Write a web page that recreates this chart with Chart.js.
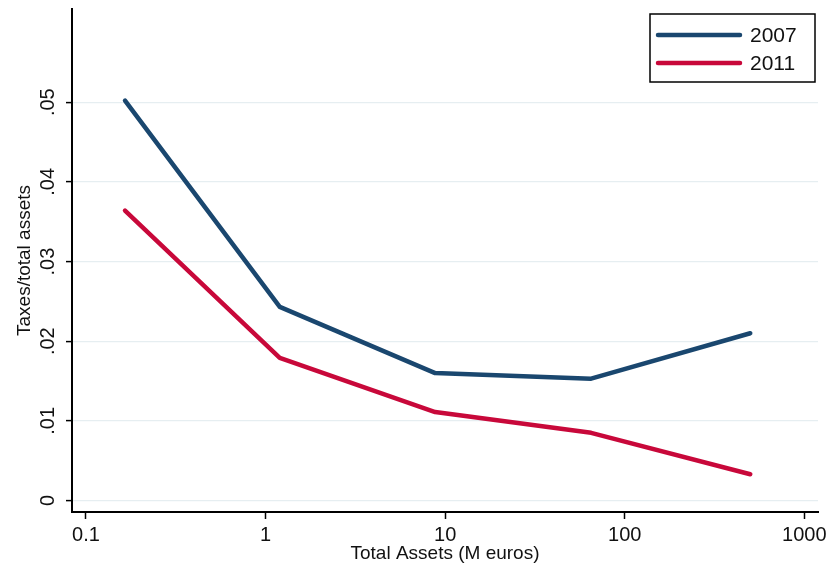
<!DOCTYPE html>
<html>
<head>
<meta charset="utf-8">
<script src="https://cdn.jsdelivr.net/npm/chart.js@4.4.1/dist/chart.umd.min.js"></script>
<style>
  html, body { margin: 0; padding: 0; background: #fff; }
  #wrap { width: 831px; height: 572px; position: relative; }
</style>
</head>
<body>
<div id="wrap"><canvas id="taxChart"></canvas></div>
<script>
// values
const years = ['2007', '2011'];
const assetLevels = [0.165, 1.2, 8.8, 65, 500];
const taxes2007 = [0.0502, 0.0243, 0.0160, 0.0153, 0.0210];
const taxes2011 = [0.0364, 0.0179, 0.0111, 0.0085, 0.0033];
const xTickValues = [0.1, 1, 10, 100, 1000];
const xTickLabels = ['0.1', '1', '10', '100', '1000'];
const yTickValues = [0, 0.01, 0.02, 0.03, 0.04, 0.05];
const yTickLabels = ['0', '.01', '.02', '.03', '.04', '.05'];

const lineColors = ['#1a476f', '#c8083a'];
const FONT = '"Liberation Sans", Arial, sans-serif';

const toPoints = (ys) => assetLevels.map((x, i) => ({ x, y: ys[i] }));

// Stata-style boxed legend in the upper right corner
const boxedLegend = {
  id: 'boxedLegend',
  afterDraw(chart) {
    const { ctx } = chart;
    ctx.save();
    ctx.strokeStyle = '#000';
    ctx.lineWidth = 1.5;
    ctx.strokeRect(650, 14, 165, 68);
    chart.data.datasets.forEach((ds, i) => {
      const y = 35 + i * 28;
      ctx.strokeStyle = ds.borderColor;
      ctx.lineWidth = 4.5;
      ctx.lineCap = 'round';
      ctx.beginPath();
      ctx.moveTo(658, y);
      ctx.lineTo(740, y);
      ctx.stroke();
      ctx.fillStyle = '#111';
      ctx.font = '21px ' + FONT;
      ctx.textBaseline = 'middle';
      ctx.textAlign = 'left';
      ctx.fillText(ds.label, 750, y + 1);
    });
    ctx.restore();
  },
};

new Chart(document.getElementById('taxChart'), {
  type: 'line',
  data: {
    datasets: [
      {
        label: years[0],
        data: toPoints(taxes2007),
        borderColor: lineColors[0],
        backgroundColor: lineColors[0],
      },
      {
        label: years[1],
        data: toPoints(taxes2011),
        borderColor: lineColors[1],
        backgroundColor: lineColors[1],
      },
    ],
  },
  options: {
    responsive: true,
    maintainAspectRatio: false,
    animation: false,
    elements: {
      line: { borderWidth: 4.5, tension: 0, borderJoinStyle: 'round', borderCapStyle: 'round' },
      point: { radius: 0, hoverRadius: 0 },
    },
    layout: { padding: { left: 0, top: 9, right: 13, bottom: 0 } },
    plugins: {
      legend: { display: false },
      tooltip: { enabled: false },
    },
    scales: {
      x: {
        type: 'logarithmic',
        min: 0.0836,
        max: 1192,
        afterBuildTicks: (scale) => {
          scale.ticks = xTickValues.map((v) => ({ value: v }));
        },
        afterFit: (scale) => {
          scale.height = 60;
          scale.paddingLeft = 0;
          scale.paddingRight = 0;
        },
        ticks: {
          autoSkip: false,
          maxRotation: 0,
          padding: 4,
          color: '#111',
          font: { family: FONT, size: 20 },
          callback: (v, i) => xTickLabels[i],
        },
        grid: { drawOnChartArea: false, tickLength: 7, tickColor: '#000', tickWidth: 1.5 },
        border: { color: '#000', width: 2 },
        title: {
          display: true,
          text: 'Total Assets (M euros)',
          color: '#111',
          font: { family: FONT, size: 19 },
          padding: { top: 0, bottom: 7 },
        },
      },
      y: {
        min: -0.00144,
        max: 0.0617,
        afterBuildTicks: (scale) => {
          scale.ticks = yTickValues.map((v) => ({ value: v }));
        },
        afterFit: (scale) => {
          scale.width = 72;
          scale.paddingTop = 0;
          scale.paddingBottom = 0;
        },
        ticks: {
          autoSkip: false,
          minRotation: 90,
          maxRotation: 90,
          crossAlign: 'center',
          padding: 4,
          color: '#111',
          font: { family: FONT, size: 20 },
          callback: (v, i) => yTickLabels[i],
        },
        grid: { color: '#e6eef1', lineWidth: 1.2, tickLength: 6, tickColor: '#000', tickWidth: 1.5 },
        border: { color: '#000', width: 2 },
        title: {
          display: true,
          text: 'Taxes/total assets',
          color: '#111',
          font: { family: FONT, size: 19 },
          padding: { top: 13, bottom: 0 },
        },
      },
    },
  },
  plugins: [boxedLegend],
});
</script>
</body>
</html>
